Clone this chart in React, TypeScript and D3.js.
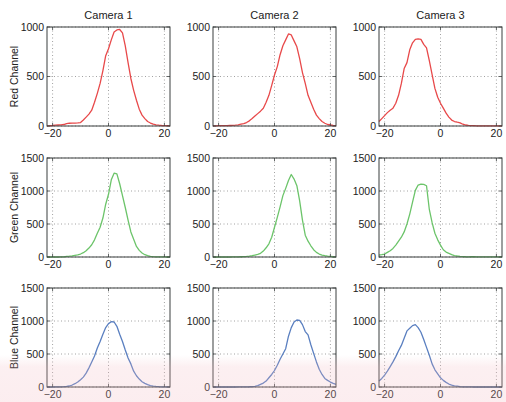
import React from "react";
import * as d3 from "d3";

const xs = d3.range(-22, 23);
const cameras = ["Camera 1", "Camera 2", "Camera 3"];
const channels = ["Red Channel", "Green Channel", "Blue Channel"];
const channelColors = ["#e8494a", "#6cc46a", "#5a7fc0"];
const yMaxes = [1000, 1500, 1500];
const yTicks = [[0, 500, 1000], [0, 500, 1000, 1500], [0, 500, 1000, 1500]];
const xTicks = [-20, 0, 20];

const red1 = [2,3,5,8,10,12,15,25,28,30,30,32,35,60,90,120,160,240,330,430,560,710,780,870,950,970,975,940,810,640,480,360,260,170,110,75,45,30,18,12,8,5,4,3,2];
const red2 = [2,2,3,3,4,4,5,6,8,12,18,24,35,52,75,100,125,150,180,240,310,410,515,600,720,810,870,930,920,860,800,680,540,430,310,240,170,110,75,45,28,15,10,5,3];
const red3 = [45,75,105,135,160,180,230,310,430,580,640,770,840,875,880,875,825,790,660,520,380,290,230,180,130,90,60,45,38,32,18,10,6,4,3,2,2,1,1,1,1,1,1,1,1];
const green1 = [0,0,0,0,0,1,2,8,12,18,25,32,45,65,95,135,185,260,360,450,590,800,950,1170,1270,1260,1110,930,750,560,380,270,160,100,60,35,20,10,5,3,2,1,1,0,0];
const green2 = [0,0,0,0,0,0,0,1,2,3,4,5,8,12,20,30,40,55,90,140,200,300,450,600,760,930,1040,1160,1250,1180,1080,850,560,330,240,170,110,70,45,30,20,12,8,4,2];
const green3 = [30,35,45,70,95,130,180,240,300,380,500,650,830,1010,1090,1105,1100,1080,720,520,360,260,180,110,75,55,35,22,15,10,6,4,3,4,5,3,2,2,1,1,1,1,1,1,1];
const blue1 = [0,0,0,1,2,3,5,8,15,30,50,75,110,150,210,290,380,470,590,690,800,900,960,990,985,920,800,690,560,440,350,240,170,120,80,55,35,22,14,9,5,3,2,1,0];
const blue2 = [0,0,0,0,0,0,0,0,0,1,1,2,3,4,6,10,20,40,60,90,140,190,250,330,420,500,580,770,900,985,1015,1010,945,840,790,640,510,380,270,190,130,100,75,55,40];
const blue3 = [90,130,180,240,310,380,460,550,630,740,850,890,930,945,900,830,720,600,480,350,260,200,140,100,70,45,30,18,12,6,3,2,1,1,0,0,0,0,0,0,0,0,0,0,0];

const series = [
  [red1, red2, red3],
  [green1, green2, green3],
  [blue1, blue2, blue3],
];

const colLefts = [47, 213, 379];
const rowTops = [27, 158, 288];
const plotW = 123;
const plotH = 99;
const font = "'Liberation Sans', Arial, Helvetica, sans-serif";
const axisColor = "#3a3f3f";
const tickLen = 3;

function Panel({ r, c }: { r: number; c: number }) {
  const x0 = colLefts[c];
  const y0 = rowTops[r];
  const x = d3.scaleLinear().domain([-22, 22]).range([x0, x0 + plotW]);
  const y = d3.scaleLinear().domain([0, yMaxes[r]]).range([y0 + plotH, y0]);
  const line = d3
    .line<number>()
    .x((_, i) => x(xs[i]))
    .y((d) => y(d))
    .curve(d3.curveLinear);
  const data = series[r][c];
  return (
    <g>
      <rect x={x0} y={y0} width={plotW} height={plotH} fill="#fff" />
      {xTicks.map((t) => (
        <line key={"gx" + t} x1={x(t)} x2={x(t)} y1={y0} y2={y0 + plotH} stroke="#8a8a8a" strokeWidth={0.8} strokeDasharray="1,2.5" />
      ))}
      {yTicks[r].map((t) => (
        <line key={"gy" + t} x1={x0} x2={x0 + plotW} y1={y(t)} y2={y(t)} stroke="#8a8a8a" strokeWidth={0.8} strokeDasharray="1,2.5" />
      ))}
      <path d={line(data) || ""} fill="none" stroke={channelColors[r]} strokeWidth={1.3} strokeLinejoin="round" />
      {xTicks.map((t) => (
        <g key={"tx" + t}>
          <line x1={x(t)} x2={x(t)} y1={y0 + plotH} y2={y0 + plotH - tickLen} stroke={axisColor} strokeWidth={0.8} />
          <line x1={x(t)} x2={x(t)} y1={y0} y2={y0 + tickLen} stroke={axisColor} strokeWidth={0.8} />
          <text x={x(t)} y={y0 + plotH + 11} textAnchor="middle" fontSize={10.5} fontFamily={font} fill="#222">
            {t < 0 ? "\u2212" + Math.abs(t) : String(t)}
          </text>
        </g>
      ))}
      {yTicks[r].map((t) => (
        <g key={"ty" + t}>
          <line x1={x0} x2={x0 + tickLen} y1={y(t)} y2={y(t)} stroke={axisColor} strokeWidth={0.8} />
          <line x1={x0 + plotW} x2={x0 + plotW - tickLen} y1={y(t)} y2={y(t)} stroke={axisColor} strokeWidth={0.8} />
          <text x={x0 - 3} y={y(t) + 3.5} textAnchor="end" fontSize={10.5} fontFamily={font} fill="#222">
            {t}
          </text>
        </g>
      ))}
      <rect x={x0} y={y0} width={plotW} height={plotH} fill="none" stroke={axisColor} strokeWidth={1} />
    </g>
  );
}

export default function App() {
  return (
    <svg width={506} height={402} style={{ position: "absolute", left: 0, top: 0, background: "#fff" }}>
      <defs>
        <linearGradient id="wm" x1="0" y1="0" x2="0" y2="1">
          <stop offset="0" stopColor="#f2b8c0" stopOpacity={0} />
          <stop offset="0.25" stopColor="#f2b8c0" stopOpacity={0.22} />
          <stop offset="1" stopColor="#f2b8c0" stopOpacity={0.25} />
        </linearGradient>
      </defs>
      {cameras.map((name, c) => (
        <text key={name} x={colLefts[c] + plotW / 2} y={19} textAnchor="middle" fontSize={11} fontFamily={font} fill="#222">
          {name}
        </text>
      ))}
      {channels.map((name, r) => (
        <text key={name} transform={`translate(18,${rowTops[r] + plotH / 2}) rotate(-90)`} textAnchor="middle" fontSize={10.5} fontFamily={font} fill="#222">
          {name}
        </text>
      ))}
      {channels.map((_, r) => cameras.map((__, c) => <Panel key={r + "-" + c} r={r} c={c} />))}
      <rect x={0} y={355} width={506} height={47} fill="url(#wm)" />
    </svg>
  );
}
